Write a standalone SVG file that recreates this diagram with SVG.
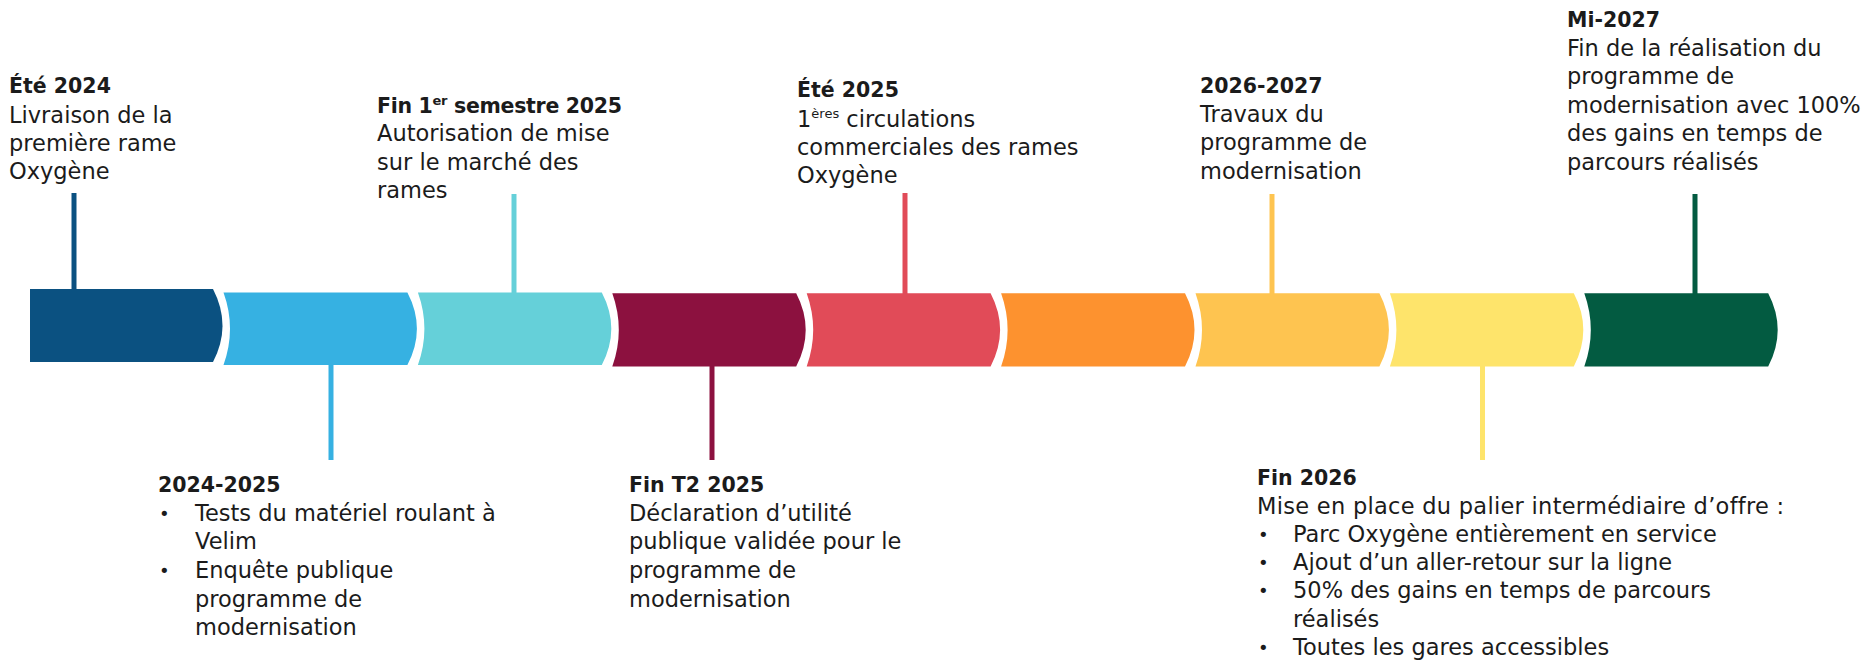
<svg xmlns="http://www.w3.org/2000/svg" width="1868" height="666" viewBox="0 0 1868 666">
<style>
  text { font-family: "DejaVu Sans", "Noto Sans", sans-serif; font-size: 22.5px; fill: #1b1b1b; }
  .t { font-weight: bold; font-size: 20.5px; }
  .sup { font-size: 13px; }
  .b { font-size: 18px; }
  .c { stroke-width: 5; fill: none; }
</style>
<rect width="1868" height="666" fill="#ffffff"/>
<g id="timeline-bar">
  <path id="seg1" fill="#0b5181" d="M30,289 H213 Q232,325.5 213,362 H30 Z"/>
  <path id="seg2" fill="#36b1e2" d="M223.5,292.5 H407.4 Q426.4,328.75 407.4,365 H223.5 Q236.5,328.75 223.5,292.5 Z"/>
  <path id="seg3" fill="#65d0d9" d="M417.9,292.5 H601.8 Q620.8,328.75 601.8,365 H417.9 Q430.9,328.75 417.9,292.5 Z"/>
  <path id="seg4" fill="#8c113f" d="M612.3,293.3 H796.2 Q815.2,329.9 796.2,366.5 H612.3 Q625.3,329.9 612.3,293.3 Z"/>
  <path id="seg5" fill="#e14b58" d="M806.7,293.3 H990.6 Q1009.6,329.9 990.6,366.5 H806.7 Q819.7,329.9 806.7,293.3 Z"/>
  <path id="seg6" fill="#fd922f" d="M1001.1,293.3 H1185 Q1204,329.9 1185,366.5 H1001.1 Q1014.1,329.9 1001.1,293.3 Z"/>
  <path id="seg7" fill="#fec450" d="M1195.5,293.3 H1379.4 Q1398.4,329.9 1379.4,366.5 H1195.5 Q1208.5,329.9 1195.5,293.3 Z"/>
  <path id="seg8" fill="#fee46b" d="M1389.9,293.3 H1573.8 Q1592.8,329.9 1573.8,366.5 H1389.9 Q1402.9,329.9 1389.9,293.3 Z"/>
  <path id="seg9" fill="#035b41" d="M1584.3,293.3 H1768.2 Q1787.2,329.9 1768.2,366.5 H1584.3 Q1597.3,329.9 1584.3,293.3 Z"/>
</g>
<g id="connectors">
  <line class="c" stroke="#0b5181" x1="74" y1="193" x2="74" y2="290"/>
  <line class="c" stroke="#36b1e2" x1="331" y1="364" x2="331" y2="460"/>
  <line class="c" stroke="#65d0d9" x1="514" y1="194" x2="514" y2="293"/>
  <line class="c" stroke="#8c113f" x1="712" y1="366" x2="712" y2="460"/>
  <line class="c" stroke="#e14b58" x1="905" y1="193" x2="905" y2="294"/>
  <line class="c" stroke="#fec450" x1="1272" y1="194" x2="1272" y2="294"/>
  <line class="c" stroke="#fee46b" x1="1482.5" y1="366" x2="1482.5" y2="460"/>
  <line class="c" stroke="#035b41" x1="1695" y1="194" x2="1695" y2="294"/>
</g>
<g id="ms-ete-2024">
  <text class="t" x="9" y="93">Été 2024</text>
  <text x="9" y="123">Livraison de la</text>
  <text x="9" y="151">première rame</text>
  <text x="9" y="179">Oxygène</text>
</g>
<g id="ms-2024-2025">
  <text class="t" x="158" y="492">2024-2025</text>
  <text class="b" x="159" y="520">•</text>
  <text x="195" y="521">Tests du matériel roulant à</text>
  <text x="195" y="549">Velim</text>
  <text class="b" x="159" y="577">•</text>
  <text x="195" y="578">Enquête publique</text>
  <text x="195" y="607">programme de</text>
  <text x="195" y="635">modernisation</text>
</g>
<g id="ms-fin-s1-2025">
  <text class="t" x="377" y="113" letter-spacing="-0.3">Fin 1<tspan class="sup" dy="-8">er</tspan><tspan dy="8"> semestre 2025</tspan></text>
  <text x="377" y="141">Autorisation de mise</text>
  <text x="377" y="170">sur le marché des</text>
  <text x="377" y="198">rames</text>
</g>
<g id="ms-fin-t2-2025">
  <text class="t" x="629" y="492">Fin T2 2025</text>
  <text x="629" y="521">Déclaration d’utilité</text>
  <text x="629" y="549">publique validée pour le</text>
  <text x="629" y="578">programme de</text>
  <text x="629" y="607">modernisation</text>
</g>
<g id="ms-ete-2025">
  <text class="t" x="797" y="97">Été 2025</text>
  <text x="797" y="127">1<tspan class="sup" dy="-9">ères</tspan><tspan dy="9"> circulations</tspan></text>
  <text x="797" y="155">commerciales des rames</text>
  <text x="797" y="183">Oxygène</text>
</g>
<g id="ms-2026-2027">
  <text class="t" x="1200" y="93">2026-2027</text>
  <text x="1200" y="122">Travaux du</text>
  <text x="1200" y="150">programme de</text>
  <text x="1200" y="179">modernisation</text>
</g>
<g id="ms-fin-2026">
  <text class="t" x="1257" y="485">Fin 2026</text>
  <text x="1257" y="513.5" letter-spacing="0.28">Mise en place du palier intermédiaire d’offre :</text>
  <text class="b" x="1258" y="541">•</text>
  <text x="1293" y="541.7">Parc Oxygène entièrement en service</text>
  <text class="b" x="1258" y="569">•</text>
  <text x="1293" y="570">Ajout d’un aller-retour sur la ligne</text>
  <text class="b" x="1258" y="597">•</text>
  <text x="1293" y="598.3">50% des gains en temps de parcours</text>
  <text x="1293" y="627">réalisés</text>
  <text class="b" x="1258" y="654">•</text>
  <text x="1293" y="655">Toutes les gares accessibles</text>
</g>
<g id="ms-mi-2027">
  <text class="t" x="1567" y="27">Mi-2027</text>
  <text x="1567" y="55.6">Fin de la réalisation du</text>
  <text x="1567" y="84.2">programme de</text>
  <text x="1567" y="112.8">modernisation avec 100%</text>
  <text x="1567" y="141.4">des gains en temps de</text>
  <text x="1567" y="170">parcours réalisés</text>
</g>
</svg>
